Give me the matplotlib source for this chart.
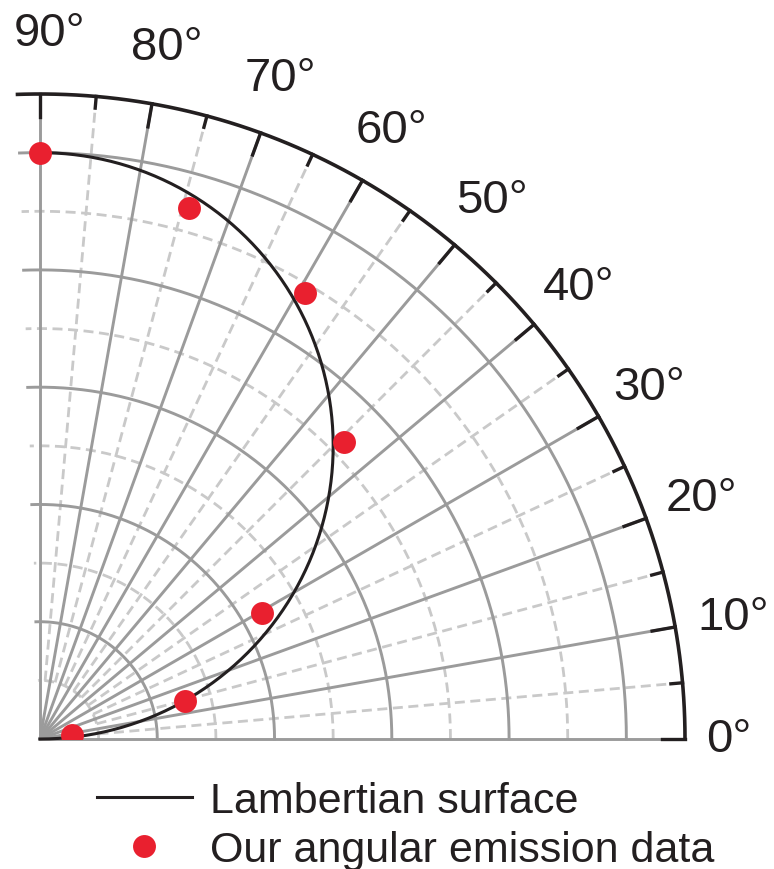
import numpy as np
import matplotlib
matplotlib.use("Agg")
import matplotlib.pyplot as plt
from matplotlib.patches import Rectangle

plt.rcParams['font.family'] = ['Liberation Sans', 'DejaVu Sans']

# measured angular emission (angle in degrees, normalised intensity)
angle_deg = [90, 74.3, 59.3, 44.4, 29.6, 14.7, 6.5]
intensity = [1.00, 0.94, 0.885, 0.725, 0.436, 0.256, 0.055]

angle_labels = [0, 10, 20, 30, 40, 50, 60, 70, 80, 90]

GRAY = '#9b9b9b'
LIGHT = '#c9c9c9'
INK = '#231f20'
RED = '#e9202f'

fig = plt.figure(figsize=(7.74, 8.70), dpi=100)
ax = fig.add_axes([40 / 774, 130 / 870, 645 / 774, 645 / 870], projection='polar')
ax.set_thetamin(0)
ax.set_thetamax(90)
ax.set_rlim(0, 1.1)
ax.set_axis_off()

rmax = 1.1
arc = np.deg2rad(np.linspace(0, 92, 300))

# radial grid circles
for r in [0.2, 0.4, 0.6, 0.8, 1.0]:
    ax.plot(arc, np.full_like(arc, r), color=GRAY, lw=2.1, clip_on=False, zorder=2)
for r in [0.1, 0.3, 0.5, 0.7, 0.9]:
    ax.plot(arc, np.full_like(arc, r), color=LIGHT, lw=2.0, ls=(0, (3.6, 2.0)),
            clip_on=False, zorder=1)

# spokes and rim ticks
for a in range(0, 91, 10):
    t = np.deg2rad(a)
    ax.plot([t, t], [0, rmax], color=GRAY, lw=2.1, clip_on=False, zorder=2)
    ax.plot([t, t], [rmax - 0.04, rmax], color=INK, lw=2.4, clip_on=False, zorder=3)
for a in range(5, 90, 10):
    t = np.deg2rad(a)
    ax.plot([t, t], [0.1, rmax - 0.02], color=LIGHT, lw=2.0, ls=(0, (3.6, 2.0)),
            clip_on=False, zorder=1)
    ax.plot([t, t], [rmax - 0.02, rmax], color=INK, lw=2.4, clip_on=False, zorder=3)

# outer rim
ax.plot(arc, np.full_like(arc, rmax), color=INK, lw=2.6, clip_on=False, zorder=3)

# Lambertian reference: I = sin(angle from surface)
th = np.deg2rad(np.linspace(0, 90, 400))
lam, = ax.plot(th, np.sin(th), color=INK, lw=2.2, clip_on=False, zorder=4,
               label='Lambertian surface')

dots, = ax.plot(np.deg2rad(angle_deg), intensity, ls='', marker='o', ms=16.5,
                color=RED, mec='none', zorder=5, label='Our angular emission data')
dots.set_clip_path(Rectangle((-0.2, 0), 1.4, 1.4, transform=ax.transAxes))

# angle labels around the rim (small nudges for the top two)
nudge = {90: -0.8, 80: -0.4}
for a in angle_labels:
    r = 1.175 if a == 0 else 1.2
    if a == 90:
        r = 1.205
    ax.text(np.deg2rad(a + nudge.get(a, 0)), r, f'{a}°', ha='center', va='center',
            fontsize=34, color=INK, clip_on=False)

fig.legend(handles=[lam, dots], loc='upper left', bbox_to_anchor=(97 / 774, 1 - 782 / 870),
           frameon=False, borderpad=0, borderaxespad=0, handlelength=2.2,
           handletextpad=0.42, labelspacing=0.2, fontsize=31, labelcolor=INK)

fig.savefig('out.png', dpi=100)
